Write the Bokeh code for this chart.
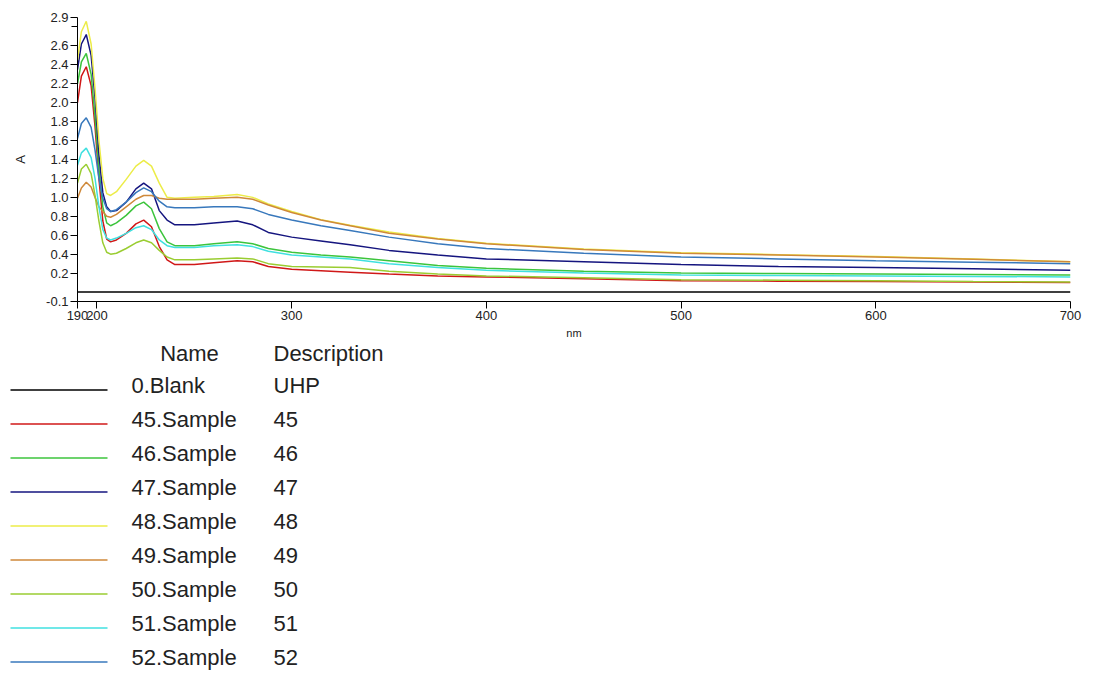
from bokeh.plotting import figure
from bokeh.models import Range1d, FixedTicker, NumeralTickFormatter
from bokeh.embed import file_html
from bokeh.resources import INLINE
from bokeh.core.properties import value

# ---------------- data ----------------
wavelength = [190, 192, 194.5, 197, 199, 201, 203, 205, 207, 210, 215, 220, 224, 228,
              232, 236, 240, 250, 260, 272, 280, 288, 300, 315, 330, 350, 375, 400,
              450, 500, 550, 600, 650, 700]

blank_0 = [0.0, 0.0, 0.0, 0.0, 0.0, 0.0, 0.0, 0.0, 0.0, 0.0, 0.0, 0.0, 0.0, 0.0,
           0.0, 0.0, 0.0, 0.0, 0.0, 0.0, 0.0, 0.0, 0.0, 0.0, 0.0, 0.0, 0.0, 0.0,
           0.0, 0.0, 0.0, 0.0, 0.0, 0.0]
sample_45 = [2.00, 2.28, 2.38, 2.18, 1.75, 1.20, 0.75, 0.56, 0.53, 0.55, 0.62, 0.72, 0.76, 0.69,
             0.48, 0.34, 0.29, 0.29, 0.31, 0.33, 0.32, 0.27, 0.24, 0.225, 0.21, 0.19, 0.17, 0.16,
             0.14, 0.12, 0.115, 0.11, 0.105, 0.10]
sample_46 = [2.20, 2.43, 2.52, 2.30, 1.85, 1.30, 0.90, 0.73, 0.70, 0.73, 0.81, 0.91, 0.95, 0.88,
             0.67, 0.53, 0.49, 0.49, 0.51, 0.53, 0.51, 0.46, 0.42, 0.39, 0.37, 0.33, 0.28, 0.25,
             0.22, 0.20, 0.195, 0.19, 0.185, 0.18]
sample_47 = [2.35, 2.62, 2.72, 2.50, 2.05, 1.45, 1.05, 0.90, 0.85, 0.86, 0.95, 1.09, 1.15, 1.09,
             0.86, 0.76, 0.71, 0.71, 0.73, 0.75, 0.71, 0.63, 0.58, 0.54, 0.50, 0.44, 0.39, 0.35,
             0.32, 0.29, 0.27, 0.26, 0.245, 0.23]
sample_48 = [2.45, 2.75, 2.86, 2.62, 2.15, 1.60, 1.20, 1.04, 1.02, 1.06, 1.19, 1.33, 1.39, 1.33,
             1.15, 1.00, 0.99, 1.00, 1.01, 1.03, 1.00, 0.93, 0.85, 0.765, 0.705, 0.635, 0.565, 0.515,
             0.455, 0.415, 0.395, 0.375, 0.35, 0.32]
sample_49 = [0.99, 1.10, 1.16, 1.11, 1.00, 0.90, 0.85, 0.80, 0.79, 0.82, 0.90, 0.98, 1.02, 1.02,
             0.99, 0.98, 0.98, 0.98, 0.99, 1.00, 0.98, 0.92, 0.84, 0.76, 0.70, 0.62, 0.56, 0.51,
             0.45, 0.41, 0.39, 0.37, 0.345, 0.32]
sample_50 = [1.15, 1.30, 1.35, 1.25, 1.02, 0.75, 0.52, 0.42, 0.40, 0.41, 0.46, 0.52, 0.55, 0.52,
             0.44, 0.37, 0.34, 0.34, 0.35, 0.36, 0.35, 0.30, 0.27, 0.265, 0.26, 0.22, 0.19, 0.17,
             0.15, 0.13, 0.125, 0.12, 0.11, 0.105]
sample_51 = [1.34, 1.47, 1.52, 1.42, 1.20, 0.90, 0.66, 0.57, 0.55, 0.57, 0.62, 0.68, 0.70, 0.66,
             0.55, 0.49, 0.47, 0.47, 0.49, 0.50, 0.48, 0.43, 0.39, 0.37, 0.35, 0.30, 0.26, 0.23,
             0.20, 0.18, 0.175, 0.17, 0.165, 0.16]
sample_52 = [1.62, 1.78, 1.84, 1.74, 1.50, 1.20, 0.99, 0.88, 0.85, 0.87, 0.95, 1.05, 1.10, 1.06,
             0.96, 0.90, 0.89, 0.89, 0.90, 0.90, 0.88, 0.82, 0.76, 0.70, 0.65, 0.58, 0.51, 0.46,
             0.41, 0.37, 0.35, 0.33, 0.315, 0.30]

series = [blank_0, sample_45, sample_46, sample_47, sample_48, sample_49,
          sample_50, sample_51, sample_52]
names = ["0.Blank", "45.Sample", "46.Sample", "47.Sample", "48.Sample",
         "49.Sample", "50.Sample", "51.Sample", "52.Sample"]
descriptions = ["UHP", "45", "46", "47", "48", "49", "50", "51", "52"]
colors = ["#000000", "#d01818", "#3cc43c", "#15157f", "#ecec48",
          "#cf893a", "#9acd32", "#40e0e0", "#3878bc"]

x_ticks = [190, 200, 300, 400, 500, 600, 700]
y_ticks = [-0.1, 0.2, 0.4, 0.6, 0.8, 1.0, 1.2, 1.4, 1.6, 1.8, 2.0, 2.2, 2.4, 2.6, 2.9]
y_unlabeled_ticks = [2.8]

FONT = "Liberation Sans"
TOP_H = 342
BOTTOM_H = 673 - TOP_H

# ---------------- chart ----------------
p = figure(width=1093, height=TOP_H, x_range=Range1d(190, 700), y_range=Range1d(-0.1, 2.9),
           output_backend="svg", toolbar_location=None,
           min_border_left=77, min_border_right=23, min_border_top=17,
           min_border_bottom=TOP_H - 17 - 284)
p.outline_line_color = None
p.grid.visible = False
p.background_fill_color = "white"
p.border_fill_color = "white"

for vals, c in zip(series, colors):
    p.line(wavelength, vals, line_color=c, line_width=1.5)

p.xaxis.ticker = FixedTicker(ticks=x_ticks, minor_ticks=[])
p.yaxis.ticker = FixedTicker(ticks=y_ticks, minor_ticks=y_unlabeled_ticks)
p.yaxis.formatter = NumeralTickFormatter(format="0.0")
for ax in (p.xaxis[0], p.yaxis[0]):
    ax.axis_line_color = "#000000"
    ax.major_tick_line_color = "#000000"
    ax.minor_tick_line_color = "#000000"
    ax.major_tick_in = 0
    ax.major_tick_out = 7
    ax.minor_tick_in = 0
    ax.minor_tick_out = 6
    ax.major_label_text_font = FONT
    ax.major_label_text_font_size = "13px"
    ax.major_label_text_color = "#222222"
    ax.major_label_standoff = 2
    ax.axis_label_text_font = FONT
    ax.axis_label_text_font_style = "normal"
    ax.axis_label_text_color = "#222222"
p.xaxis.axis_label = "nm"
p.xaxis.axis_label_text_font_size = "11px"
p.xaxis.axis_label_standoff = 4
p.yaxis.axis_label = "A"
p.yaxis.axis_label_text_font_size = "13px"
p.yaxis.axis_label_standoff = 15

# ---------------- legend table ----------------
q = figure(width=1093, height=BOTTOM_H, x_range=Range1d(0, 1093),
           y_range=Range1d(BOTTOM_H, 0),
           output_backend="svg", toolbar_location=None,
           x_axis_location=None, y_axis_location=None, min_border=0)
q.outline_line_color = None
q.grid.visible = False
q.background_fill_color = "white"
q.border_fill_color = "white"

off = 673 - BOTTOM_H   # page y of the top of this panel
row_y = [385 - off + 34.0 * i for i in range(len(names))]
line_y = [y + 4.5 for y in row_y]

q.segment(x0=[10] * len(names), y0=line_y, x1=[107] * len(names), y1=line_y,
          line_color=colors, line_width=1.5)
q.text(x=[131] * len(names), y=row_y, text=names, text_font=value(FONT),
       text_font_size=value("22px"), text_baseline="middle", text_align="left",
       text_color="#222222")
q.text(x=[273] * len(names), y=row_y, text=descriptions, text_font=value(FONT),
       text_font_size=value("22px"), text_baseline="middle", text_align="left",
       text_color="#222222")
q.text(x=[189, 273], y=[353 - off, 353 - off], text=["Name", "Description"],
       text_font=value(FONT), text_font_size=value("22px"), text_baseline="middle",
       text_align=["center", "left"], text_color="#222222")

open("out.html", "w").write(file_html([p, q], INLINE))
